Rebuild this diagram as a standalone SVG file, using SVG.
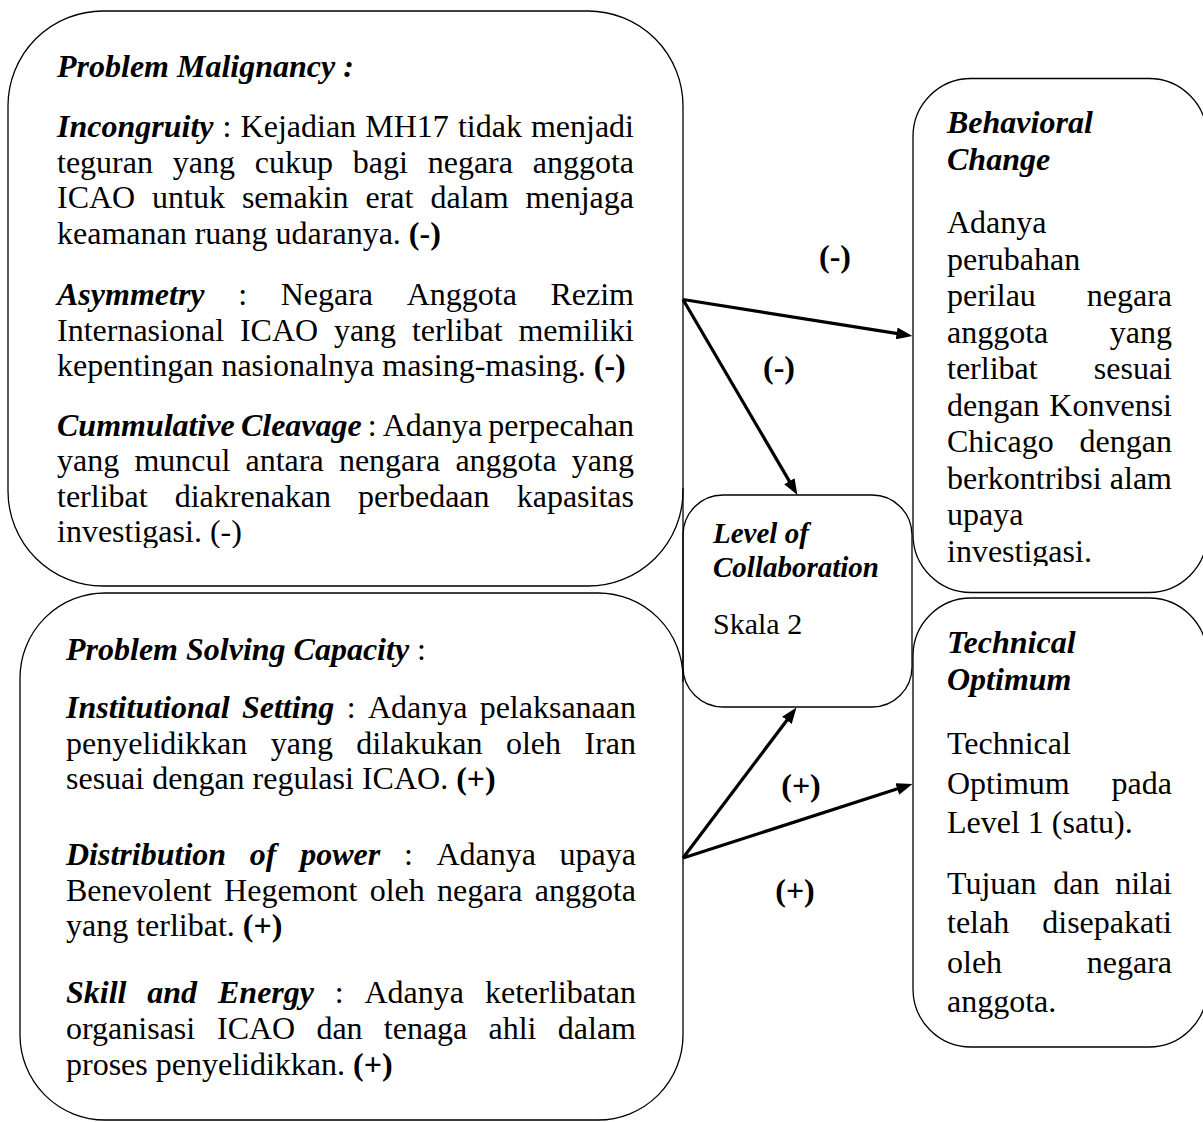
<svg xmlns="http://www.w3.org/2000/svg" width="1203" height="1122" viewBox="0 0 1203 1122">
<style>
.box{fill:none;stroke:#000;stroke-width:1.3}
.t{font-family:"Liberation Serif","Times New Roman",serif;font-size:32px;fill:#000}
.bi{font-weight:bold;font-style:italic}
.b{font-weight:bold}
.e{text-anchor:end}
.lb{font-weight:bold;text-anchor:middle}
.lv{font-size:29px}
.conn{stroke:#000;stroke-width:3.2;fill:none;marker-end:url(#ah)}
</style>
<defs>
<marker id="ah" markerUnits="userSpaceOnUse" markerWidth="16" markerHeight="12" refX="6" refY="6" orient="auto">
<path d="M0,0 L16,6 L0,12 Z" fill="#000"/>
</marker>
<clipPath id="c1"><rect x="0" y="0" width="700" height="548"/></clipPath>
<clipPath id="c2"><rect x="900" y="60" width="303" height="506"/></clipPath>
</defs>
<rect width="1203" height="1122" fill="#fff"/>

<g id="problem-malignancy">
<rect class="box" x="8" y="11" width="675" height="575" rx="95" ry="95"/>
<g clip-path="url(#c1)">
<text class="t bi" x="57" y="77">Problem Malignancy :</text>
<text class="t" y="137"><tspan class="bi" x="57">Incongruity</tspan><tspan x="222.6">:</tspan><tspan x="240.6">Kejadian</tspan><tspan x="365.2">MH17</tspan><tspan x="457.9">tidak</tspan></text>
<text class="t e" x="634" y="137">menjadi</text>
<text class="t" y="172.5"><tspan x="57">teguran</tspan><tspan x="172.8">yang</tspan><tspan x="254.8">cukup</tspan><tspan x="352.8">bagi</tspan><tspan x="427.7">negara</tspan></text>
<text class="t e" x="634" y="172.5">anggota</text>
<text class="t" y="208"><tspan x="57">ICAO</tspan><tspan x="152.1">untuk</tspan><tspan x="241.9">semakin</tspan><tspan x="365.5">erat</tspan><tspan x="430.4">dalam</tspan></text>
<text class="t e" x="634" y="208">menjaga</text>
<text class="t" x="57" y="243.5">keamanan ruang udaranya. <tspan class="b">(-)</tspan></text>
<text class="t" y="305"><tspan class="bi" x="57">Asymmetry</tspan><tspan x="238.2">:</tspan><tspan x="280.7">Negara</tspan><tspan x="406.7">Anggota</tspan></text>
<text class="t e" x="634" y="305">Rezim</text>
<text class="t" y="340.5"><tspan x="57">Internasional</tspan><tspan x="239.9">ICAO</tspan><tspan x="333.9">yang</tspan><tspan x="411.9">terlibat</tspan></text>
<text class="t e" x="634" y="340.5">memiliki</text>
<text class="t" x="57" y="376">kepentingan nasionalnya masing-masing. <tspan class="b">(-)</tspan></text>
<text class="t" y="435.5"><tspan class="bi" x="57">Cummulative</tspan><tspan class="bi" x="240.9">Cleavage</tspan><tspan x="367.8">:</tspan><tspan x="382.7">Adanya</tspan></text>
<text class="t e" x="634" y="435.5">perpecahan</text>
<text class="t" y="471"><tspan x="57">yang</tspan><tspan x="134.4">muncul</tspan><tspan x="245.5">antara</tspan><tspan x="338.9">nengara</tspan><tspan x="455.4">anggota</tspan></text>
<text class="t e" x="634" y="471">yang</text>
<text class="t" y="506.5"><tspan x="57">terlibat</tspan><tspan x="174.7">diakrenakan</tspan><tspan x="358.1">perbedaan</tspan></text>
<text class="t e" x="634" y="506.5">kapasitas</text>
<text class="t" x="57" y="542">investigasi. (-)</text>
</g>
</g>

<g id="problem-solving-capacity">
<rect class="box" x="20" y="593" width="663" height="527" rx="85" ry="85"/>
<text class="t" x="66" y="660"><tspan class="bi">Problem Solving Capacity</tspan> :</text>
<text class="t" y="718"><tspan class="bi" x="66">Institutional</tspan><tspan class="bi" x="241.9">Setting</tspan><tspan x="346.7">:</tspan><tspan x="367.9">Adanya</tspan></text>
<text class="t e" x="636" y="718">pelaksanaan</text>
<text class="t" y="753.5"><tspan x="66">penyelidikkan</tspan><tspan x="270.7">yang</tspan><tspan x="356.3">dilakukan</tspan><tspan x="505.9">oleh</tspan></text>
<text class="t e" x="636" y="753.5">Iran</text>
<text class="t" x="66" y="789">sesuai dengan regulasi ICAO. <tspan class="b">(+)</tspan></text>
<text class="t" y="865"><tspan class="bi" x="66">Distribution</tspan><tspan class="bi" x="249.8">of</tspan><tspan class="bi" x="300.2">power</tspan><tspan x="403.9">:</tspan><tspan x="436.5">Adanya</tspan></text>
<text class="t e" x="636" y="865">upaya</text>
<text class="t" y="900.5"><tspan x="66">Benevolent</tspan><tspan x="224.1">Hegemont</tspan><tspan x="369.7">oleh</tspan><tspan x="437.1">negara</tspan></text>
<text class="t e" x="636" y="900.5">anggota</text>
<text class="t" x="66" y="936">yang terlibat. <tspan class="b">(+)</tspan></text>
<text class="t" y="1003"><tspan class="bi" x="66">Skill</tspan><tspan class="bi" x="147.3">and</tspan><tspan class="bi" x="218">Energy</tspan><tspan x="334.8">:</tspan><tspan x="364.5">Adanya</tspan></text>
<text class="t e" x="636" y="1003">keterlibatan</text>
<text class="t" y="1039"><tspan x="66">organisasi</tspan><tspan x="217">ICAO</tspan><tspan x="316.4">dan</tspan><tspan x="383.8">tenaga</tspan><tspan x="488.5">ahli</tspan></text>
<text class="t e" x="636" y="1039">dalam</text>
<text class="t" x="66" y="1075">proses penyelidikkan. <tspan class="b">(+)</tspan></text>
</g>

<g id="behavioral-change">
<rect class="box" x="913" y="78.5" width="294" height="514" rx="58" ry="58"/>
<g clip-path="url(#c2)">
<text class="t bi" x="947" y="133">Behavioral</text>
<text class="t bi" x="947" y="170">Change</text>
<text class="t" x="947" y="233">Adanya</text>
<text class="t" x="947" y="269.5">perubahan</text>
<text class="t" x="947" y="306">perilau</text><text class="t e" x="1172" y="306">negara</text>
<text class="t" x="947" y="342.5">anggota</text><text class="t e" x="1172" y="342.5">yang</text>
<text class="t" x="947" y="379">terlibat</text><text class="t e" x="1172" y="379">sesuai</text>
<text class="t" x="947" y="415.5">dengan</text><text class="t e" x="1172" y="415.5">Konvensi</text>
<text class="t" x="947" y="452">Chicago</text><text class="t e" x="1172" y="452">dengan</text>
<text class="t" x="947" y="488.5">berkontribsi</text><text class="t e" x="1172" y="488.5">alam</text>
<text class="t" x="947" y="525">upaya</text>
<text class="t" x="947" y="561.5">investigasi.</text>
</g>
</g>

<g id="technical-optimum">
<rect class="box" x="913" y="598" width="294" height="449" rx="58" ry="58"/>
<text class="t bi" x="947" y="653">Technical</text>
<text class="t bi" x="947" y="690">Optimum</text>
<text class="t" x="947" y="754">Technical</text>
<text class="t" x="947" y="793.5">Optimum</text><text class="t e" x="1172" y="793.5">pada</text>
<text class="t" x="947" y="833">Level 1 (satu).</text>
<text class="t" y="894"><tspan x="947">Tujuan</tspan><tspan x="1053.3">dan</tspan></text><text class="t e" x="1172" y="894">nilai</text>
<text class="t" x="947" y="933">telah</text><text class="t e" x="1172" y="933">disepakati</text>
<text class="t" x="947" y="972.5">oleh</text><text class="t e" x="1172" y="972.5">negara</text>
<text class="t" x="947" y="1012">anggota.</text>
</g>

<g id="level-of-collaboration">
<line x1="683" y1="488" x2="683" y2="682" stroke="#000" stroke-width="1.3"/>
<rect class="box" x="683" y="495" width="229" height="212" rx="40" ry="40"/>
<text class="t bi lv" x="713" y="543">Level of</text>
<text class="t bi lv" x="713" y="577">Collaboration</text>
<text class="t" x="713" y="634" style="font-size:30px">Skala 2</text>
</g>

<g id="connectors">
<line class="conn" x1="683" y1="299.5" x2="902.6" y2="334.4"/>
<line class="conn" x1="683" y1="299.5" x2="792.4" y2="486.4"/>
<line class="conn" x1="683" y1="858" x2="790.5" y2="715.5"/>
<line class="conn" x1="683" y1="858" x2="903" y2="787.1"/>
<text class="t lb" x="835" y="267">(-)</text>
<text class="t lb" x="779" y="378">(-)</text>
<text class="t lb" x="801" y="795.5">(+)</text>
<text class="t lb" x="795" y="901">(+)</text>
</g>
</svg>
